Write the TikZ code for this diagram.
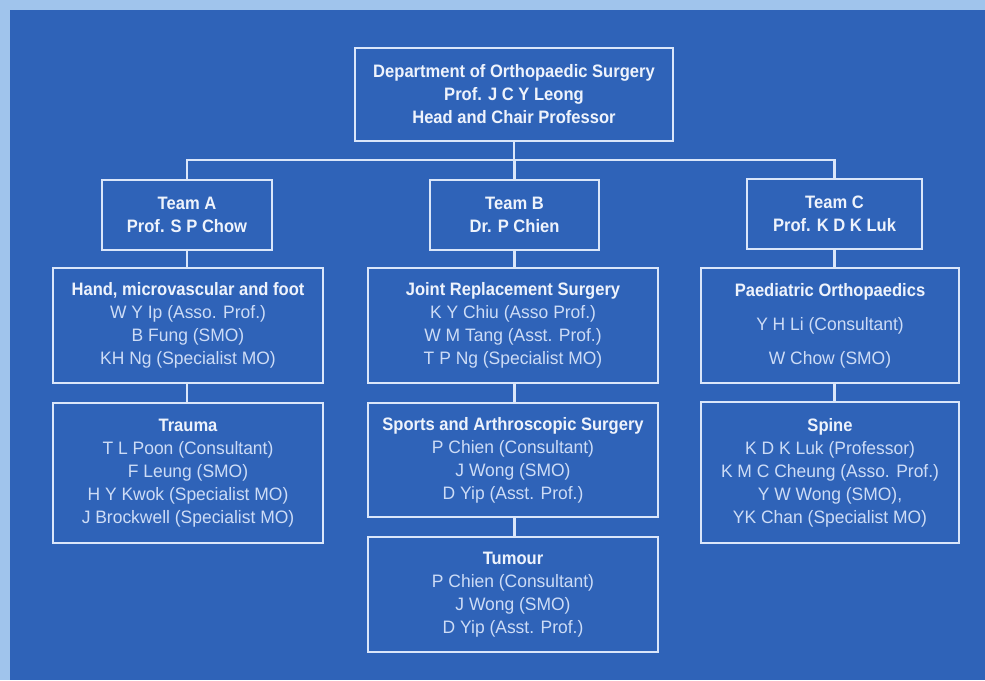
\documentclass[tikz,border=0pt]{standalone}
\usepackage{fontspec}
\setmainfont{Liberation Sans}[FakeStretch=0.97]
\newfontfamily\hdfont{Liberation Sans Bold}[FakeStretch=0.92]
\definecolor{bgblue}{RGB}{47,99,184}
\definecolor{frameblue}{RGB}{160,196,236}
\definecolor{linecol}{RGB}{218,230,250}
\definecolor{headcol}{RGB}{238,243,252}
\definecolor{bodycol}{RGB}{205,220,246}
\newcommand{\hd}[1]{{\hdfont\color{headcol}#1}}
\begin{document}
\begin{tikzpicture}[x=1pt,y=-1pt,
  orgbox/.style={draw=linecol, line width=2.4pt, inner sep=0pt, align=center,
     font=\fontsize{18}{23}\selectfont, text=bodycol},
  conn/.style={draw=linecol, line width=2.4pt}]
\fill[frameblue] (0,0) rectangle (985,680);
\fill[bgblue] (10,10) rectangle (985,680);
\useasboundingbox (0,0) rectangle (985,680);
% top
\node[orgbox, minimum width=318pt, minimum height=93pt] (top) at (514,94.5)
  {\hd{Department of Orthopaedic Surgery}\\\hd{Prof. J C Y Leong}\\\hd{Head and Chair Professor}};
\coordinate (bus) at (514,160);
% teams
\node[orgbox, minimum width=170pt, minimum height=70pt] (teamA) at (187,215) {\hd{Team A}\\\hd{Prof. S P Chow}};
\node[orgbox, minimum width=169pt, minimum height=70pt] (teamB) at (514.5,215) {\hd{Team B}\\\hd{Dr. P Chien}};
\node[orgbox, minimum width=175pt, minimum height=70pt] (teamC) at (834.5,214) {\hd{Team C}\\\hd{Prof. K D K Luk}};
% second level
\node[orgbox, minimum width=270pt, minimum height=115pt] (hand) at (188,325.5)
  {\hd{Hand, microvascular and foot}\\W Y Ip (Asso. Prof.)\\B Fung (SMO)\\KH Ng (Specialist MO)};
\node[orgbox, minimum width=290pt, minimum height=115pt] (joint) at (513,325.5)
  {\hd{Joint Replacement Surgery}\\K Y Chiu (Asso Prof.)\\W M Tang (Asst. Prof.)\\T P Ng (Specialist MO)};
\node[orgbox, minimum width=258pt, minimum height=115pt] (paed) at (830,325.5)
  {\hd{Paediatric Orthopaedics}\\[11pt]Y H Li (Consultant)\\[11pt]W Chow (SMO)};
% third level
\node[orgbox, minimum width=270pt, minimum height=140pt] (trauma) at (188,473)
  {\hd{Trauma}\\T L Poon (Consultant)\\F Leung (SMO)\\H Y Kwok (Specialist MO)\\J Brockwell (Specialist MO)};
\node[orgbox, minimum width=290pt, minimum height=114pt] (sports) at (513,460)
  {\hd{Sports and Arthroscopic Surgery}\\P Chien (Consultant)\\J Wong (SMO)\\D Yip (Asst. Prof.)};
\node[orgbox, minimum width=258pt, minimum height=141pt] (spine) at (830,472.5)
  {\hd{Spine}\\K D K Luk (Professor)\\K M C Cheung (Asso. Prof.)\\Y W Wong (SMO),\\YK Chan (Specialist MO)};
\node[orgbox, minimum width=290pt, minimum height=115pt] (tumour) at (513,594.5)
  {\hd{Tumour}\\P Chien (Consultant)\\J Wong (SMO)\\D Yip (Asst. Prof.)};
% connectors
\draw[conn] (top.south) -- (bus);
\draw[conn] (teamA.north) -- (teamA.north |- bus) -- (teamC.north |- bus) -- (teamC.north);
\draw[conn] (teamB.north) -- (teamB.north |- bus);
\draw[conn] (teamA.south) -- (teamA.south |- hand.north);
\draw[conn] (teamB.south) -- (teamB.south |- joint.north);
\draw[conn] (teamC.south) -- (teamC.south |- paed.north);
\draw[conn] (hand.south -| teamA.south) -- (teamA.south |- trauma.north);
\draw[conn] (joint.south -| teamB.south) -- (teamB.south |- sports.north);
\draw[conn] (paed.south -| teamC.south) -- (teamC.south |- spine.north);
\draw[conn] (sports.south -| teamB.south) -- (teamB.south |- tumour.north);
\end{tikzpicture}
\end{document}
